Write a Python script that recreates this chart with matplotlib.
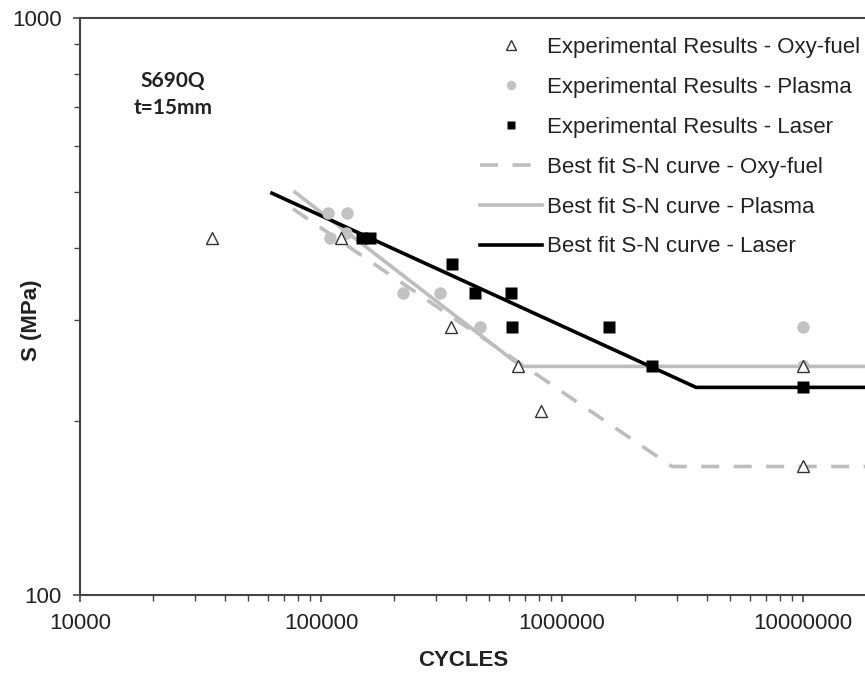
import numpy as np
import matplotlib
matplotlib.use('Agg')
import matplotlib.pyplot as plt

plt.rcParams['font.family'] = ['Liberation Sans', 'DejaVu Sans']

oxy_n = [35300, 121000, 346000, 657000, 818000, 1.0e7, 1.0e7]
oxy_s = [416, 415, 291, 249, 208, 167, 249]

plasma_n = [106900, 128000, 109000, 127000, 219000, 312000, 457000, 1.0e7, 1.0e7]
plasma_s = [459, 459, 416, 424, 334, 334, 291, 291, 249]

laser_n = [148000, 160000, 350000, 435000, 614000, 620000, 1.57e6, 2.36e6, 1.0e7]
laser_s = [416, 416, 375, 334, 334, 291, 291, 249, 229]

# Best fit S-N curves (start, knee, plateau end)
fit_oxy_n = [76500, 2.86e6, 3.0e7]
fit_oxy_s = [467, 167, 167]
fit_plasma_n = [78000, 676000, 3.0e7]
fit_plasma_s = [499, 249, 249]
fit_laser_n = [62600, 3.6e6, 3.0e7]
fit_laser_s = [497, 229, 229]

x_ticks = [10000, 100000, 1000000, 10000000]
y_ticks = [100, 1000]

W, H = 865, 673
fig = plt.figure(figsize=(W / 100, H / 100), dpi=100)
ax = fig.add_axes([80 / W, 1 - 595 / H, 1 - 80 / W, (595 - 18) / H])

light = '#bdbdbd'
ax.plot(fit_oxy_n, fit_oxy_s, color=light, lw=2.6, dashes=(5, 4),
        solid_capstyle='butt', label='Best fit S-N curve - Oxy-fuel', zorder=2)
ax.plot(fit_plasma_n, fit_plasma_s, color=light, lw=2.6,
        label='Best fit S-N curve - Plasma', zorder=2)
ax.plot(fit_laser_n, fit_laser_s, color='black', lw=2.6,
        label='Best fit S-N curve - Laser', zorder=3)

ax.plot(plasma_n, plasma_s, 'o', color='#c2c2c2', ms=9, mec='none',
        label='Experimental Results - Plasma', zorder=4)
ax.plot(laser_n, laser_s, 's', color='black', ms=8.5, mec='none',
        label='Experimental Results - Laser', zorder=5)
ax.plot(oxy_n, oxy_s, '^', mfc='white', mec='#333333', mew=1.0, ms=9,
        label='Experimental Results - Oxy-fuel', zorder=6)

ax.set_xscale('log')
ax.set_yscale('log')
ax.set_xlim(1e4, 10 ** (4 + 785 / 241))
ax.set_ylim(100, 1000)
ax.set_xticks(x_ticks)
ax.set_xticklabels([str(v) for v in x_ticks])
ax.set_yticks(y_ticks)
ax.set_yticklabels([str(v) for v in y_ticks])
ax.xaxis.set_minor_formatter(matplotlib.ticker.NullFormatter())
ax.yaxis.set_minor_formatter(matplotlib.ticker.NullFormatter())
ax.tick_params(which='major', length=5, width=1.2, color='#444444',
               labelsize=16, labelcolor='#222222', pad=8)
ax.tick_params(which='minor', length=4, width=1.0, color='#444444')

for side in ['left', 'bottom', 'top']:
    ax.spines[side].set_color('#444444')
    ax.spines[side].set_linewidth(1.5)
ax.spines['right'].set_visible(False)

fig.text(463 / W, 1 - 660 / H, 'CYCLES', fontsize=16, fontweight='bold',
         ha='center', va='center', color='#222222')
fig.text(31 / W, 1 - 320 / H, 'S (MPa)', fontsize=16, fontweight='bold',
         rotation=90, ha='center', va='center', color='#222222')
fig.text(173 / W, 1 - 81 / H, 'S690Q', fontsize=15, fontweight='bold',
         family=['Lato', 'DejaVu Sans'], ha='center', va='center', color='#222222')
fig.text(173 / W, 1 - 108 / H, 't=15mm', fontsize=15, fontweight='bold',
         family=['Lato', 'DejaVu Sans'], ha='center', va='center', color='#222222')

handles, labels = ax.get_legend_handles_labels()
order = ['Experimental Results - Oxy-fuel', 'Experimental Results - Plasma',
         'Experimental Results - Laser', 'Best fit S-N curve - Oxy-fuel',
         'Best fit S-N curve - Plasma', 'Best fit S-N curve - Laser']
hmap = dict(zip(labels, handles))
leg = ax.legend([hmap[k] for k in order], order, loc='upper left',
                bbox_to_anchor=(480 / W, 1 - 37 / H), bbox_transform=fig.transFigure,
                frameon=False, fontsize=16, handlelength=2.8, handletextpad=0.22,
                labelspacing=0.85, borderpad=0, borderaxespad=0, markerscale=0.75)
for t in leg.get_texts():
    t.set_color('#222222')

fig.savefig('out.png', dpi=100)
